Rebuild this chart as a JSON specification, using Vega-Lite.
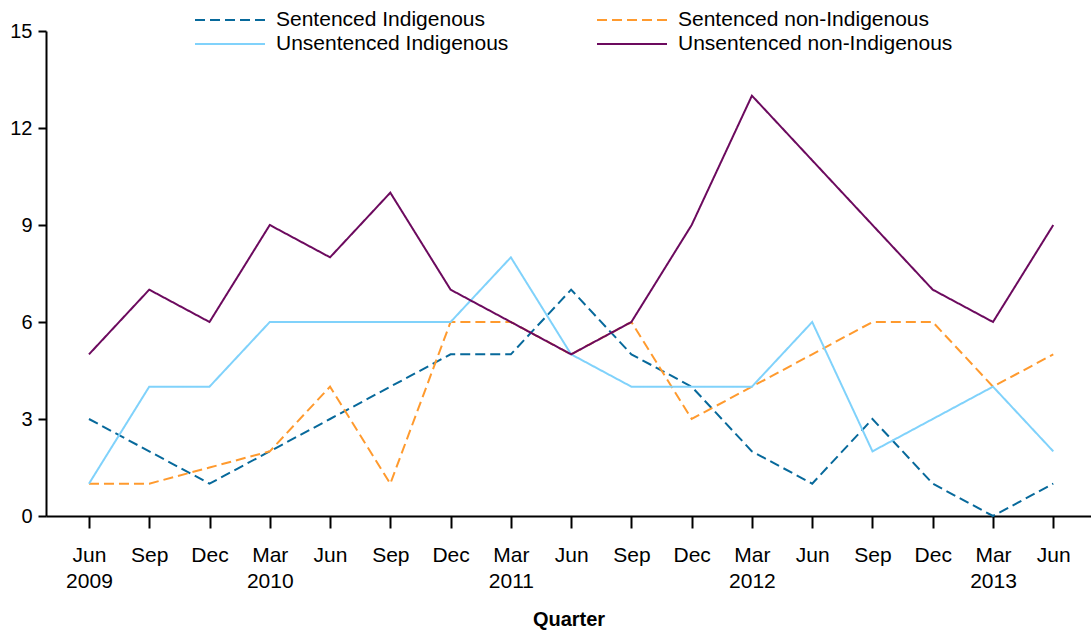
{
  "$schema": "https://vega.github.io/schema/vega-lite/v6.json",
  "width": 1045,
  "height": 485,
  "autosize": "none",
  "padding": {"left": 46, "top": 31, "right": 0, "bottom": 118},
  "background": "white",
  "data": {"values": [
    {"q": 0, "series": "Sentenced Indigenous", "v": 3},
    {"q": 1, "series": "Sentenced Indigenous", "v": 2},
    {"q": 2, "series": "Sentenced Indigenous", "v": 1},
    {"q": 3, "series": "Sentenced Indigenous", "v": 2},
    {"q": 4, "series": "Sentenced Indigenous", "v": 3},
    {"q": 5, "series": "Sentenced Indigenous", "v": 4},
    {"q": 6, "series": "Sentenced Indigenous", "v": 5},
    {"q": 7, "series": "Sentenced Indigenous", "v": 5},
    {"q": 8, "series": "Sentenced Indigenous", "v": 7},
    {"q": 9, "series": "Sentenced Indigenous", "v": 5},
    {"q": 10, "series": "Sentenced Indigenous", "v": 4},
    {"q": 11, "series": "Sentenced Indigenous", "v": 2},
    {"q": 12, "series": "Sentenced Indigenous", "v": 1},
    {"q": 13, "series": "Sentenced Indigenous", "v": 3},
    {"q": 14, "series": "Sentenced Indigenous", "v": 1},
    {"q": 15, "series": "Sentenced Indigenous", "v": 0},
    {"q": 16, "series": "Sentenced Indigenous", "v": 1},
    {"q": 0, "series": "Sentenced non-Indigenous", "v": 1},
    {"q": 1, "series": "Sentenced non-Indigenous", "v": 1},
    {"q": 2, "series": "Sentenced non-Indigenous", "v": 1.5},
    {"q": 3, "series": "Sentenced non-Indigenous", "v": 2},
    {"q": 4, "series": "Sentenced non-Indigenous", "v": 4},
    {"q": 5, "series": "Sentenced non-Indigenous", "v": 1},
    {"q": 6, "series": "Sentenced non-Indigenous", "v": 6},
    {"q": 7, "series": "Sentenced non-Indigenous", "v": 6},
    {"q": 8, "series": "Sentenced non-Indigenous", "v": 5},
    {"q": 9, "series": "Sentenced non-Indigenous", "v": 6},
    {"q": 10, "series": "Sentenced non-Indigenous", "v": 3},
    {"q": 11, "series": "Sentenced non-Indigenous", "v": 4},
    {"q": 12, "series": "Sentenced non-Indigenous", "v": 5},
    {"q": 13, "series": "Sentenced non-Indigenous", "v": 6},
    {"q": 14, "series": "Sentenced non-Indigenous", "v": 6},
    {"q": 15, "series": "Sentenced non-Indigenous", "v": 4},
    {"q": 16, "series": "Sentenced non-Indigenous", "v": 5},
    {"q": 0, "series": "Unsentenced Indigenous", "v": 1},
    {"q": 1, "series": "Unsentenced Indigenous", "v": 4},
    {"q": 2, "series": "Unsentenced Indigenous", "v": 4},
    {"q": 3, "series": "Unsentenced Indigenous", "v": 6},
    {"q": 4, "series": "Unsentenced Indigenous", "v": 6},
    {"q": 5, "series": "Unsentenced Indigenous", "v": 6},
    {"q": 6, "series": "Unsentenced Indigenous", "v": 6},
    {"q": 7, "series": "Unsentenced Indigenous", "v": 8},
    {"q": 8, "series": "Unsentenced Indigenous", "v": 5},
    {"q": 9, "series": "Unsentenced Indigenous", "v": 4},
    {"q": 10, "series": "Unsentenced Indigenous", "v": 4},
    {"q": 11, "series": "Unsentenced Indigenous", "v": 4},
    {"q": 12, "series": "Unsentenced Indigenous", "v": 6},
    {"q": 13, "series": "Unsentenced Indigenous", "v": 2},
    {"q": 14, "series": "Unsentenced Indigenous", "v": 3},
    {"q": 15, "series": "Unsentenced Indigenous", "v": 4},
    {"q": 16, "series": "Unsentenced Indigenous", "v": 2},
    {"q": 0, "series": "Unsentenced non-Indigenous", "v": 5},
    {"q": 1, "series": "Unsentenced non-Indigenous", "v": 7},
    {"q": 2, "series": "Unsentenced non-Indigenous", "v": 6},
    {"q": 3, "series": "Unsentenced non-Indigenous", "v": 9},
    {"q": 4, "series": "Unsentenced non-Indigenous", "v": 8},
    {"q": 5, "series": "Unsentenced non-Indigenous", "v": 10},
    {"q": 6, "series": "Unsentenced non-Indigenous", "v": 7},
    {"q": 7, "series": "Unsentenced non-Indigenous", "v": 6},
    {"q": 8, "series": "Unsentenced non-Indigenous", "v": 5},
    {"q": 9, "series": "Unsentenced non-Indigenous", "v": 6},
    {"q": 10, "series": "Unsentenced non-Indigenous", "v": 9},
    {"q": 11, "series": "Unsentenced non-Indigenous", "v": 13},
    {"q": 12, "series": "Unsentenced non-Indigenous", "v": 11},
    {"q": 13, "series": "Unsentenced non-Indigenous", "v": 9},
    {"q": 14, "series": "Unsentenced non-Indigenous", "v": 7},
    {"q": 15, "series": "Unsentenced non-Indigenous", "v": 6},
    {"q": 16, "series": "Unsentenced non-Indigenous", "v": 9}
  ]},
  "mark": {"type": "line", "strokeWidth": 2, "clip": false},
  "encoding": {
    "x": {
      "field": "q", "type": "quantitative",
      "scale": {"domain": [-0.713, 16.626], "nice": false, "zero": false},
      "axis": {
        "values": [0,1,2,3,4,5,6,7,8,9,10,11,12,13,14,15,16],
        "labelExpr": "datum.value == 0 ? ['Jun', '2009'] : ((datum.value - 3) % 4 == 0 ? ['Mar', '' + (2010 + (datum.value - 3) / 4)] : [['Jun','Sep','Dec','Mar'][datum.value % 4]])",
        "title": "Quarter",
        "grid": false,
        "tickSize": 12,
        "labelPadding": 16,
        "labelLineHeight": 26,
        "labelBaseline": "top",
        "titlePadding": 18,
        "labelFlush": false,
        "labelOverlap": false
      }
    },
    "y": {
      "field": "v", "type": "quantitative",
      "scale": {"domain": [0, 15], "nice": false},
      "axis": {
        "values": [0, 3, 6, 9, 12, 15],
        "title": null,
        "grid": false,
        "tickSize": 8,
        "labelPadding": 6,
        "labelFontSize": 20
      }
    },
    "color": {
      "field": "series", "type": "nominal", "title": null,
      "scale": {
        "domain": ["Sentenced Indigenous", "Sentenced non-Indigenous", "Unsentenced Indigenous", "Unsentenced non-Indigenous"],
        "range": ["#07699b", "#ff9a2e", "#80d2fb", "#6c0a5e"]
      }
    },
    "strokeDash": {
      "field": "series", "type": "nominal", "title": null,
      "scale": {
        "domain": ["Sentenced Indigenous", "Sentenced non-Indigenous", "Unsentenced Indigenous", "Unsentenced non-Indigenous"],
        "range": [[10, 5], [10, 5], [1, 0], [1, 0]]
      }
    }
  },
  "config": {
    "font": "Liberation Sans",
    "view": {"stroke": null},
    "axis": {
      "domainColor": "black",
      "domainWidth": 2,
      "tickColor": "black",
      "tickWidth": 2,
      "labelColor": "black",
      "labelFont": "Liberation Sans",
      "labelFontSize": 21,
      "titleFont": "Liberation Sans",
      "titleFontSize": 20,
      "titleFontWeight": "bold",
      "titleColor": "black"
    },
    "legend": {
      "orient": "none",
      "legendX": 173,
      "legendY": -22,
      "columns": 2,
      "direction": "horizontal",
      "columnPadding": 42,
      "rowPadding": 3,
      "padding": 0,
      "symbolType": "M-3.5,0H3.5",
      "symbolSize": 400,
      "symbolStrokeWidth": 2,
      "labelFont": "Liberation Sans",
      "labelFontSize": 21,
      "labelColor": "black",
      "labelOffset": 35,
      "labelLimit": 400,
      "gridAlign": "all"
    }
  }
}
